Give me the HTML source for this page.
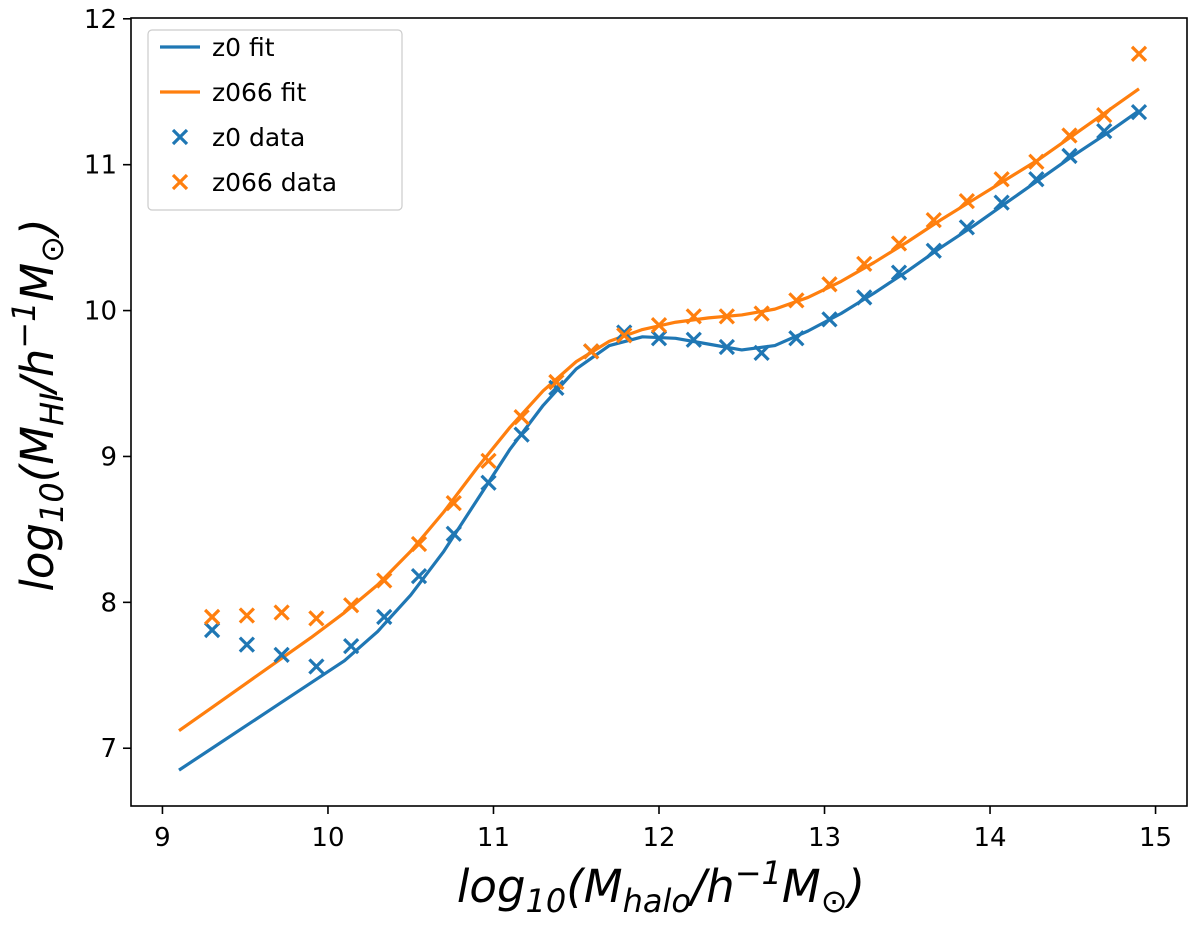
<!DOCTYPE html>
<html><head><meta charset="utf-8"><style>
body{margin:0;background:#fff;}
svg{font-family:"DejaVu Sans","Liberation Sans",sans-serif;}
</style></head><body>
<svg id="chart" width="1200" height="920" viewBox="0 0 1200 920">
<g id="plot"></g>
<g id="legend"></g>
<text x="661" y="902" text-anchor="middle" font-size="45" font-style="italic">log<tspan font-size="32" dy="10">10</tspan><tspan dy="-10">(M</tspan><tspan font-size="32" dy="10">halo</tspan><tspan dy="-10">/h</tspan><tspan font-size="32" dy="-18">−1</tspan><tspan dy="18">M</tspan><tspan font-size="32" font-style="normal" dy="10">⊙</tspan><tspan dy="-10">)</tspan></text>
<text transform="translate(53,405) rotate(-90)" text-anchor="middle" font-size="45" font-style="italic">log<tspan font-size="32" dy="10">10</tspan><tspan dy="-10">(M</tspan><tspan font-size="32" dy="10">HI</tspan><tspan dy="-10">/h</tspan><tspan font-size="32" dy="-18">−1</tspan><tspan dy="18">M</tspan><tspan font-size="32" font-style="normal" dy="10">⊙</tspan><tspan dy="-10">)</tspan></text>
</svg>
<script>
const xData = [9.30,9.51,9.72,9.93,10.14,10.34,10.55,10.76,10.97,11.17,11.38,11.59,11.79,12.00,12.21,12.41,12.62,12.83,13.03,13.24,13.45,13.66,13.86,14.07,14.28,14.48,14.69,14.90];
const z0Data = [7.81,7.71,7.64,7.56,7.70,7.90,8.18,8.47,8.82,9.15,9.47,9.72,9.85,9.81,9.80,9.75,9.71,9.81,9.94,10.09,10.26,10.41,10.57,10.74,10.90,11.06,11.23,11.36];
const z066Data = [7.90,7.91,7.93,7.89,7.98,8.15,8.40,8.68,8.97,9.27,9.51,9.72,9.83,9.90,9.96,9.96,9.98,10.07,10.18,10.32,10.46,10.62,10.75,10.90,11.02,11.20,11.34,11.76];
const xFit = [9.1,9.3,9.5,9.7,9.9,10.1,10.3,10.5,10.7,10.9,11.1,11.3,11.5,11.7,11.9,12.1,12.3,12.5,12.7,12.9,13.1,13.3,13.5,13.7,13.9,14.1,14.3,14.5,14.7,14.9];
const z0Fit = [6.85,7.0,7.15,7.30,7.45,7.6,7.8,8.05,8.35,8.7,9.05,9.35,9.6,9.76,9.82,9.81,9.77,9.73,9.76,9.86,9.98,10.12,10.27,10.43,10.58,10.74,10.9,11.06,11.21,11.37];
const z066Fit = [7.12,7.28,7.44,7.60,7.76,7.93,8.12,8.35,8.62,8.92,9.2,9.45,9.65,9.79,9.87,9.92,9.95,9.97,10.01,10.09,10.2,10.33,10.47,10.62,10.76,10.9,11.04,11.2,11.36,11.52];
const xTicks = [9,10,11,12,13,14,15];
const yTicks = [7,8,9,10,11,12];
const legendLabels = ['z0 fit','z066 fit','z0 data','z066 data'];

const L=131,R=1187,T=18,B=806, X0=8.81,X1=15.19, Y0=6.604,Y1=12.0055;
const sx=v=>L+(v-X0)/(X1-X0)*(R-L);
const sy=v=>B-(v-Y0)/(Y1-Y0)*(B-T);
const NS="http://www.w3.org/2000/svg";
const g=document.getElementById('plot');
const lg=document.getElementById('legend');
function mk(t,a,p){const e=document.createElementNS(NS,t);for(const k in a)e.setAttribute(k,a[k]);(p||g).appendChild(e);return e;}
const C0="#1f77b4",C1="#ff7f0e";

xTicks.forEach(v=>{
  const t=mk('line',{x1:sx(v),x2:sx(v),y1:B,y2:B+8,stroke:'#000','stroke-width':1.6});
  
  
  const s=mk('text',{x:sx(v),y:B+40,'text-anchor':'middle','font-size':26});
  s.textContent=v;
  
  
});
yTicks.forEach(v=>{
  const t=mk('line',{x1:L-8,x2:L,y1:sy(v),y2:sy(v),stroke:'#000','stroke-width':1.6});
  
  
  const s=mk('text',{x:L-14,y:sy(v)+9,'text-anchor':'end','font-size':26});
  s.textContent=v;
  
  
});

function line(xs,ys,c,name){
  const p=mk('polyline',{points:xs.map((x,i)=>sx(x)+','+sy(ys[i])).join(' '),fill:'none',stroke:c,'stroke-width':3.2,'stroke-linejoin':'round'});
  
  
}
function xpath(cx,cy,r){return `M${cx-r},${cy-r}L${cx+r},${cy+r}M${cx-r},${cy+r}L${cx+r},${cy-r}`;}
function marks(xs,ys,c,name){
  xs.forEach((x,i)=>{
    const m=mk('path',{d:xpath(sx(x),sy(ys[i]),7),stroke:c,'stroke-width':3.2});
    
    
  });
}
line(xFit,z0Fit,C0,'z0-fit-line');
line(xFit,z066Fit,C1,'z066-fit-line');
marks(xData,z0Data,C0,'z0-data-point');
marks(xData,z066Data,C1,'z066-data-point');

const f=mk('rect',{x:L,y:T,width:R-L,height:B-T,fill:'none',stroke:'#000','stroke-width':1.6});



const box=mk('rect',{x:148,y:30,width:254,height:180,rx:4,fill:'#fff','fill-opacity':0.8,stroke:'#ccc','stroke-width':1.2},lg);


const legendColors=[C0,C1,C0,C1];
legendLabels.forEach((lab,i)=>{
  const y=47+i*45;
  let sym;
  if(i<2){sym=mk('line',{x1:160,x2:200,y1:y,y2:y,stroke:legendColors[i],'stroke-width':3.2},lg);}
  else{sym=mk('path',{d:xpath(180,y,7),stroke:legendColors[i],'stroke-width':3.2},lg);}
  
  
  const t=mk('text',{x:212,y:y+9,'font-size':25},lg);
  t.textContent=lab;
  
  
});
</script>
</body></html>
